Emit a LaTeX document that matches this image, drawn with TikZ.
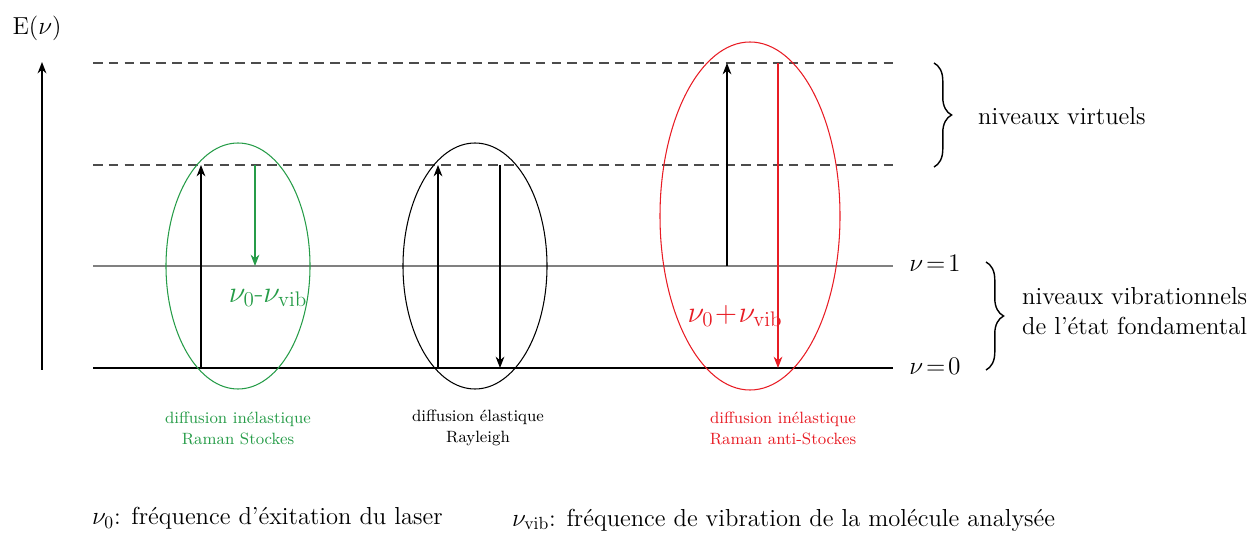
\documentclass[tikz,border=0pt]{standalone}
\usetikzlibrary{decorations.pathreplacing, arrows.meta}
\definecolor{ramangreen}{RGB}{38,156,72}
\definecolor{ramanred}{RGB}{232,28,36}
\begin{document}
\begin{tikzpicture}[x=0.02cm, y=-0.02cm, >={Stealth[length=6.5pt, width=5pt]},
    level/.style={line width=0.8pt},
    virtlevel/.style={line width=0.6pt, draw=black!70, dash pattern=on 5.5pt off 3.5pt},
    jump/.style={->, line width=0.6pt},
    zone/.style={line width=0.6pt},
    biglab/.style={font=\fontsize{14}{17}\selectfont, align=left},
    freqlab/.style={font=\fontsize{16.5}{19}\selectfont},
    caplab/.style={font=\fontsize{9.3}{12}\selectfont, align=center},
    midbrace/.style={decorate, decoration={brace, amplitude=10pt}, line width=0.8pt}]
  \useasboundingbox (0,0) rectangle (1254,533);

  % ---- energy axis
  \coordinate (ax0) at (42,370);
  \coordinate (ax1) at (42,62);
  \draw[->, line width=0.8pt] (ax0) -- (ax1);
  \node[biglab] (axlab) at (37,28) {E($\nu$)};

  % ---- the four levels
  \coordinate (vtl) at (93,63);   \coordinate (vtr) at (895,63);
  \coordinate (vbl) at (93,165);  \coordinate (vbr) at (895,165);
  \coordinate (v1l) at (93,266);  \coordinate (v1r) at (893,266);
  \coordinate (v0l) at (93,368);  \coordinate (v0r) at (893,368);
  \draw[virtlevel] (vtl) -- (vtr);
  \draw[virtlevel] (vbl) -- (vbr);
  \draw[level, draw=black!50] (v1l) -- (v1r);
  \draw[level] (v0l) -- (v0r);
  \node[biglab] (n1) at (935,263) {$\nu\!=\!1$};
  \node[biglab] (n0) at (935,366) {$\nu\!=\!0$};

  % ---- braces on the right
  \coordinate (b1t) at (934,63);  \coordinate (b1b) at (934,167);
  \coordinate (b2t) at (986,262); \coordinate (b2b) at (986,370);
  \draw[midbrace] (b1t) -- (b1b);
  \draw[midbrace] (b2t) -- (b2b);
  \node[biglab, anchor=west] (virt) at (972,116) {niveaux virtuels};
  \node[biglab, anchor=west] (vib) at (1016,311) {niveaux vibrationnels\\de l'état fondamental};

  % ---- Stokes
  \coordinate (sU) at (201,0);
  \coordinate (sD) at (255,0);
  \draw[zone, draw=ramangreen] (238,266) ellipse [x radius=72, y radius=123];
  \draw[jump] (sU |- v0l) -- (sU |- vbl);
  \draw[jump, draw=ramangreen, fill=ramangreen] (sD |- vbl) -- (sD |- v1l);
  \node[freqlab, text=ramangreen] (slab) at (268,298) {$\nu_0$-$\nu_{\mathrm{vib}}$};
  \node[caplab, text=ramangreen] (scap) at (238,428) {diffusion inélastique\\Raman Stockes};

  % ---- Rayleigh
  \coordinate (rU) at (438,0);
  \coordinate (rD) at (500,0);
  \draw[zone] (475,266) ellipse [x radius=72, y radius=123];
  \draw[jump] (rU |- v0l) -- (rU |- vbl);
  \draw[jump] (rD |- vbl) -- (rD |- v0l);
  \node[caplab] (rcap) at (478,428) {diffusion élastique\\Rayleigh};

  % ---- anti-Stokes
  \coordinate (aU) at (727,0);
  \coordinate (aD) at (778,0);
  \draw[zone, draw=ramanred] (750,216) ellipse [x radius=90, y radius=174];
  \draw[jump] (aU |- v1l) -- (aU |- vtl);
  \draw[jump, draw=ramanred, fill=ramanred] (aD |- vtl) -- (aD |- v0l);
  \node[freqlab, text=ramanred] (alab) at (735,316) {$\nu_0\!+\!\nu_{\mathrm{vib}}$};
  \node[caplab, text=ramanred] (acap) at (783,428) {diffusion inélastique\\Raman anti-Stockes};

  % ---- legend
  \node[biglab, anchor=west] (leg0) at (86,518) {$\nu_0$: fréquence d'éxitation du laser};
  \node[biglab, anchor=west] (leg1) at (506,520) {$\nu_{\mathrm{vib}}$: fréquence de vibration de la molécule analysée};
\end{tikzpicture}
\end{document}
